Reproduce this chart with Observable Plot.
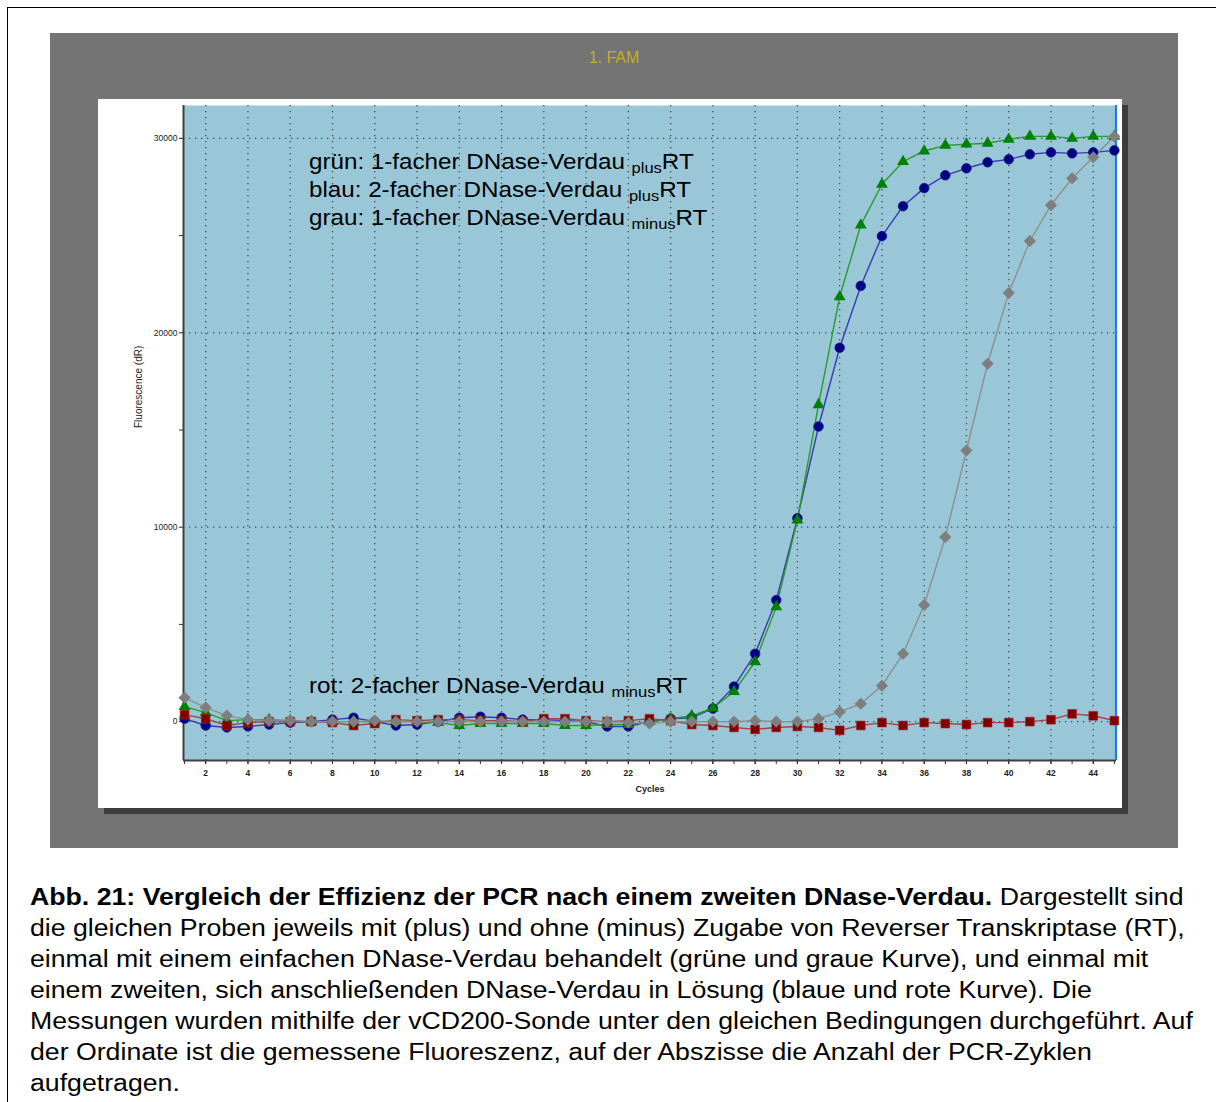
<!DOCTYPE html>
<html>
<head>
<meta charset="utf-8">
<script src="https://cdn.jsdelivr.net/npm/d3@7"></script>
<script src="https://cdn.jsdelivr.net/npm/@observablehq/plot@0.6"></script>
<style>
  html, body { margin: 0; padding: 0; background: #fff; }
  body { width: 1216px; height: 1102px; position: relative; overflow: hidden; font-family: Arial, "Liberation Sans", sans-serif; }
  #frame { position: absolute; left: 7px; top: 7px; width: 1300px; height: 1200px; border-left: 1.5px solid #000; border-top: 1.5px solid #000; }
  #panel { position: absolute; left: 50px; top: 33px; width: 1128px; height: 815px; background: #747474; }
  #title { position: absolute; left: 0; width: 1128px; top: 16px; text-align: center; color: #c4ae20; font-size: 16px; }
  #white { position: absolute; left: 48px; top: 66px; width: 1024px; height: 709px; background: #fff; box-shadow: 6px 6px 0 #3c3c3c; }
  #caption { position: absolute; left: 30px; top: 882px; font-size: 23px; line-height: 31px; color: #000; white-space: nowrap; transform: scaleX(1.16); transform-origin: 0 0; }
</style>
</head>
<body>
<div id="frame"></div>
<div id="panel">
  <div id="title">1. FAM</div>
  <div id="white"></div>
</div>
<div id="caption"><b>Abb. 21: Vergleich der Effizienz der PCR nach einem zweiten DNase-Verdau.</b> Dargestellt sind<br>die gleichen Proben jeweils mit (plus) und ohne (minus) Zugabe von Reverser Transkriptase (RT),<br>einmal mit einem einfachen DNase-Verdau behandelt (grüne und graue Kurve), und einmal mit<br>einem zweiten, sich anschließenden DNase-Verdau in Lösung (blaue und rote Kurve). Die<br>Messungen wurden mithilfe der vCD200-Sonde unter den gleichen Bedingungen durchgeführt. Auf<br>der Ordinate ist die gemessene Fluoreszenz, auf der Abszisse die Anzahl der PCR-Zyklen<br>aufgetragen.</div>
<script>
// ---------- data ----------
const cycles = [1,2,3,4,5,6,7,8,9,10,11,12,13,14,15,16,17,18,19,20,21,22,23,24,25,26,27,28,29,30,31,32,33,34,35,36,37,38,39,40,41,42,43,44,45];
const green = [770,460,50,100,100,50,0,0,0,0,0,0,-50,-200,-100,-100,-100,-100,-200,-200,-150,-150,0,150,300,700,1540,3080,5900,10360,16300,21850,25540,27640,28800,29350,29640,29700,29750,29950,30100,30100,30000,30100,30100];
const blue = [150,-200,-300,-250,-150,-50,0,100,200,0,-200,-150,0,200,250,200,100,100,50,0,-250,-250,0,150,200,670,1800,3490,6250,10460,15180,19230,22410,24970,26510,27440,28100,28460,28770,28920,29180,29280,29230,29280,29380];
const gray = [1230,720,310,100,50,50,0,0,0,50,0,0,0,0,0,0,0,0,0,0,0,-50,-100,0,0,0,0,50,0,0,150,500,920,1850,3490,6000,9490,13950,18410,22050,24720,26560,27950,29030,30100];
const red = [360,150,-200,-50,0,0,0,-50,-200,-100,100,50,100,100,50,50,0,150,150,50,0,50,150,50,-150,-200,-300,-400,-300,-250,-300,-450,-200,-50,-200,-50,-100,-150,-50,-50,0,100,400,300,50];
const xDomain = [0.95, 45.1];
const yDomain = [-2000, 31690];
const xLabelTicks = [2,4,6,8,10,12,14,16,18,20,22,24,26,28,30,32,34,36,38,40,42,44];
const yMajorTicks = [0, 10000, 20000, 30000];
const yMinorTicks = [5000, 15000, 25000];
const legendLines = [
  ["grün: 1-facher DNase-Verdau ", "plus", "RT"],
  ["blau: 2-facher DNase-Verdau ", "plus", "RT"],
  ["grau: 1-facher DNase-Verdau ", "minus", "RT"]
];
const redLegend = ["rot: 2-facher DNase-Verdau ", "minus", "RT"];

const toRows = (vals) => cycles.map((c, i) => ({cycle: c, value: vals[i]}));
const G = toRows(green), B = toRows(blue), Gr = toRows(gray), R = toRows(red);

const grid = {stroke: "#333", strokeOpacity: 0.85, strokeWidth: 1.3, strokeDasharray: "1.3,4.7"};

const chart = Plot.plot({
  width: 1024,
  height: 709,
  marginLeft: 85,
  marginRight: 6,
  marginTop: 6,
  marginBottom: 48,
  style: {background: "transparent", fontFamily: "Arial, 'Liberation Sans', sans-serif", fontSize: "9px", color: "#222"},
  x: {domain: xDomain},
  y: {domain: yDomain},
  marks: [
    Plot.frame({fill: "#99c7d7", stroke: null}),
    Plot.ruleX(xLabelTicks, {...grid}),
    Plot.ruleY(yMajorTicks, {...grid}),
    Plot.axisX({ticks: cycles, tickSize: 4, tickFormat: () => "", label: null, stroke: "#333"}),
    Plot.axisX({ticks: xLabelTicks, tickSize: 4, tickPadding: 5, label: null, fill: "#222", fontWeight: "bold", fontSize: 8.5}),
    Plot.axisY({ticks: yMinorTicks, tickSize: 4, tickFormat: () => "", label: null, stroke: "#333"}),
    Plot.axisY({ticks: yMajorTicks, tickSize: 4, tickPadding: 2, tickFormat: "d", label: null, fill: "#222", fontSize: 8.5}),
    Plot.ruleX([xDomain[0]], {stroke: "#404040", strokeWidth: 2}),
    Plot.ruleY([yDomain[0]], {stroke: "#404040", strokeWidth: 2}),
    Plot.ruleX([xDomain[1]], {stroke: "#1f7cf0", strokeWidth: 2.2, dx: -0.5}),
    Plot.line(B, {x: "cycle", y: "value", stroke: "#3a3ab0", strokeWidth: 1.4}),
    Plot.line(G, {x: "cycle", y: "value", stroke: "#2a9a2a", strokeWidth: 1.4}),
    Plot.line(R, {x: "cycle", y: "value", stroke: "#a04545", strokeWidth: 1.4}),
    Plot.line(Gr, {x: "cycle", y: "value", stroke: "#8e8e8e", strokeWidth: 1.4}),
    Plot.dot(B, {x: "cycle", y: "value", symbol: "circle", r: 4.8, fill: "#000080", stroke: "#1a1a90", strokeWidth: 0.8}),
    Plot.dot(G, {x: "cycle", y: "value", symbol: "triangle", r: 4.4, fill: "#008000", stroke: null}),
    Plot.dot(R, {x: "cycle", y: "value", symbol: "square", r: 5, fill: "#800000", stroke: "#a33", strokeWidth: 0.6}),
    Plot.dot(Gr, {x: "cycle", y: "value", symbol: "diamond2", r: 5.2, fill: "#7e7e7e", stroke: "#7e7e7e", strokeWidth: 0.6}),
    Plot.text(["Cycles"], {frameAnchor: "bottom", dy: 31, fill: "#222", fontSize: 9, fontWeight: "bold"}),
    Plot.text(["Fluorescence (dR)"], {frameAnchor: "left", dx: -45, dy: -5, rotate: -90, fill: "#222", fontSize: 10})
  ]
});

document.getElementById("white").appendChild(chart);

// legend annotations with subscripts
const svg = d3.select(chart);
const ann = svg.append("g")
  .attr("font-family", "Arial, 'Liberation Sans', sans-serif")
  .attr("fill", "#000")
  .attr("text-anchor", "start");
function addLine(parts, x, y) {
  const t = ann.append("text")
    .attr("transform", `translate(${x},${y}) scale(1.1,1)`)
    .attr("font-size", 22)
    .attr("text-anchor", "start");
  t.append("tspan").text(parts[0]);
  t.append("tspan").attr("font-size", 15).attr("dy", 4).text(parts[1]);
  t.append("tspan").attr("dy", -4).text(parts[2]);
}
legendLines.forEach((p, i) => addLine(p, 211, 70 + i * 28));
addLine(redLegend, 211, 594);
</script>
</body>
</html>
